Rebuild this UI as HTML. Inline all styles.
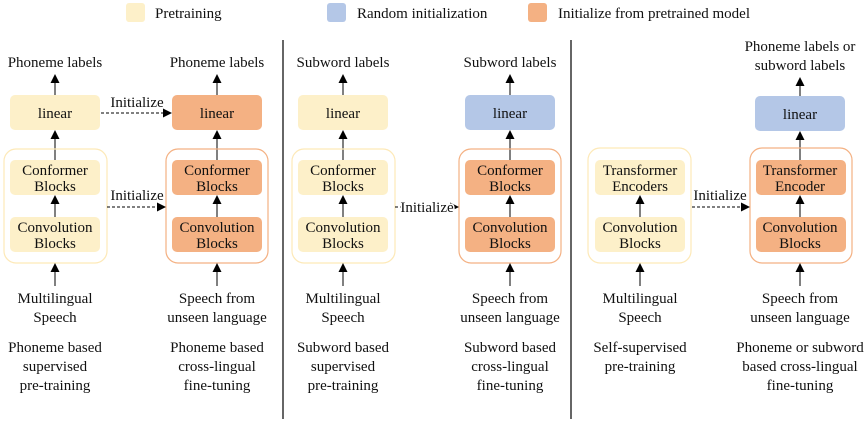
<!DOCTYPE html>
<html><head><meta charset="utf-8"><style>
body{margin:0;background:#fff}
svg text{font-family:"Liberation Serif",serif;font-size:15px;fill:#111;text-anchor:middle}
</style></head><body>
<svg width="865" height="419" viewBox="0 0 865 419" xmlns="http://www.w3.org/2000/svg">
<defs><marker id="a" markerWidth="9" markerHeight="9" refX="8" refY="4.5" orient="auto" markerUnits="userSpaceOnUse"><path d="M0,0 L9,4.5 L0,9 z" fill="#000"/></marker></defs>
<rect x="126" y="3" width="19" height="19" rx="3" fill="#fdf0c9"/><text x="155" y="18" style="text-anchor:start">Pretraining</text>
<rect x="327" y="3" width="19" height="19" rx="3" fill="#b4c7e7"/><text x="357" y="18" style="text-anchor:start">Random initialization</text>
<rect x="528" y="3" width="19" height="19" rx="3" fill="#f4b183"/><text x="558" y="18" style="text-anchor:start">Initialize from pretrained model</text>
<line x1="283" y1="40" x2="283" y2="419" stroke="#000" stroke-width="1.2"/>
<line x1="571" y1="40" x2="571" y2="419" stroke="#000" stroke-width="1.2"/>
<g>
<text x="55" y="67">Phoneme labels</text>
<line x1="55" y1="95" x2="55" y2="75" stroke="#000" marker-end="url(#a)"/>
<rect x="10" y="95" width="90" height="35" rx="5" fill="#fdf0c9"/><text x="55" y="118">linear</text>
<line x1="55" y1="160" x2="55" y2="131" stroke="#000" marker-end="url(#a)"/>
<rect x="4" y="149" width="103" height="114" rx="12" fill="none" stroke="#fde9b8" stroke-width="1.2"/>
<rect x="10" y="160" width="90" height="35" rx="5" fill="#fdf0c9"/><text x="55" y="175">Conformer</text><text x="55" y="191">Blocks</text>
<line x1="55" y1="217" x2="55" y2="196" stroke="#000" marker-end="url(#a)"/>
<rect x="10" y="217" width="90" height="35" rx="5" fill="#fdf0c9"/><text x="55" y="232">Convolution</text><text x="55" y="248">Blocks</text>
<line x1="55" y1="286" x2="55" y2="264" stroke="#000" marker-end="url(#a)"/>
<text x="55" y="303">Multilingual</text><text x="55" y="322">Speech</text>
<text x="55" y="352">Phoneme based</text><text x="55" y="371">supervised</text><text x="55" y="390">pre-training</text>

<text x="217" y="67">Phoneme labels</text>
<line x1="217" y1="95" x2="217" y2="75" stroke="#000" marker-end="url(#a)"/>
<rect x="172" y="95" width="90" height="35" rx="5" fill="#f4b183"/><text x="217" y="118">linear</text>
<line x1="217" y1="160" x2="217" y2="131" stroke="#000" marker-end="url(#a)"/>
<rect x="166" y="149" width="102" height="114" rx="12" fill="none" stroke="#f4b183" stroke-width="1.2"/>
<rect x="172" y="160" width="90" height="35" rx="5" fill="#f4b183"/><text x="217" y="175">Conformer</text><text x="217" y="191">Blocks</text>
<line x1="217" y1="217" x2="217" y2="196" stroke="#000" marker-end="url(#a)"/>
<rect x="172" y="217" width="90" height="35" rx="5" fill="#f4b183"/><text x="217" y="232">Convolution</text><text x="217" y="248">Blocks</text>
<line x1="217" y1="286" x2="217" y2="264" stroke="#000" marker-end="url(#a)"/>
<text x="217" y="303">Speech from</text><text x="217" y="322">unseen language</text>
<text x="217" y="352">Phoneme based</text><text x="217" y="371">cross-lingual</text><text x="217" y="390">fine-tuning</text>

<line x1="101" y1="113" x2="171" y2="113" stroke="#000" stroke-dasharray="3,2" marker-end="url(#a)"/><text x="137" y="107">Initialize</text>
<line x1="107" y1="207" x2="165" y2="207" stroke="#000" stroke-dasharray="3,2" marker-end="url(#a)"/><text x="137" y="200">Initialize</text>
</g>
<g>
<text x="343" y="67">Subword labels</text>
<line x1="343" y1="95" x2="343" y2="75" stroke="#000" marker-end="url(#a)"/>
<rect x="298" y="95" width="90" height="35" rx="5" fill="#fdf0c9"/><text x="343" y="118">linear</text>
<line x1="343" y1="160" x2="343" y2="131" stroke="#000" marker-end="url(#a)"/>
<rect x="292" y="149" width="103" height="114" rx="12" fill="none" stroke="#fde9b8" stroke-width="1.2"/>
<rect x="298" y="160" width="90" height="35" rx="5" fill="#fdf0c9"/><text x="343" y="175">Conformer</text><text x="343" y="191">Blocks</text>
<line x1="343" y1="217" x2="343" y2="196" stroke="#000" marker-end="url(#a)"/>
<rect x="298" y="217" width="90" height="35" rx="5" fill="#fdf0c9"/><text x="343" y="232">Convolution</text><text x="343" y="248">Blocks</text>
<line x1="343" y1="286" x2="343" y2="264" stroke="#000" marker-end="url(#a)"/>
<text x="343" y="303">Multilingual</text><text x="343" y="322">Speech</text>
<text x="343" y="352">Subword based</text><text x="343" y="371">supervised</text><text x="343" y="390">pre-training</text>

<text x="510" y="67">Subword labels</text>
<line x1="510" y1="95" x2="510" y2="75" stroke="#000" marker-end="url(#a)"/>
<rect x="465" y="95" width="90" height="35" rx="5" fill="#b4c7e7"/><text x="510" y="118">linear</text>
<line x1="510" y1="160" x2="510" y2="131" stroke="#000" marker-end="url(#a)"/>
<rect x="459" y="149" width="102" height="114" rx="12" fill="none" stroke="#f4b183" stroke-width="1.2"/>
<rect x="465" y="160" width="90" height="35" rx="5" fill="#f4b183"/><text x="510" y="175">Conformer</text><text x="510" y="191">Blocks</text>
<line x1="510" y1="217" x2="510" y2="196" stroke="#000" marker-end="url(#a)"/>
<rect x="465" y="217" width="90" height="35" rx="5" fill="#f4b183"/><text x="510" y="232">Convolution</text><text x="510" y="248">Blocks</text>
<line x1="510" y1="286" x2="510" y2="264" stroke="#000" marker-end="url(#a)"/>
<text x="510" y="303">Speech from</text><text x="510" y="322">unseen language</text>
<text x="510" y="352">Subword based</text><text x="510" y="371">cross-lingual</text><text x="510" y="390">fine-tuning</text>
<line x1="395" y1="207" x2="458" y2="207" stroke="#000" stroke-dasharray="3,2" marker-end="url(#a)"/><text x="427" y="212" style="fill:#111;paint-order:stroke;stroke:#fff;stroke-width:3">Initialize</text>
</g>
<g>
<rect x="588" y="148" width="103" height="115" rx="12" fill="none" stroke="#fde9b8" stroke-width="1.2"/>
<rect x="595" y="160" width="90" height="35" rx="5" fill="#fdf0c9"/><text x="640" y="175">Transformer</text><text x="640" y="191">Encoders</text>
<line x1="640" y1="217" x2="640" y2="196" stroke="#000" marker-end="url(#a)"/>
<rect x="595" y="217" width="90" height="35" rx="5" fill="#fdf0c9"/><text x="640" y="232">Convolution</text><text x="640" y="248">Blocks</text>
<line x1="640" y1="286" x2="640" y2="264" stroke="#000" marker-end="url(#a)"/>
<text x="640" y="303">Multilingual</text><text x="640" y="322">Speech</text>
<text x="640" y="352">Self-supervised</text><text x="640" y="371">pre-training</text>

<text x="800" y="51">Phoneme labels or</text><text x="800" y="70">subword labels</text>
<line x1="800" y1="96" x2="800" y2="78" stroke="#000" marker-end="url(#a)"/>
<rect x="755" y="96" width="90" height="35" rx="5" fill="#b4c7e7"/><text x="800" y="119">linear</text>
<line x1="800" y1="160" x2="800" y2="132" stroke="#000" marker-end="url(#a)"/>
<rect x="750" y="148" width="102" height="115" rx="12" fill="none" stroke="#f4b183" stroke-width="1.2"/>
<rect x="756" y="160" width="90" height="35" rx="5" fill="#f4b183"/><text x="800" y="175">Transformer</text><text x="800" y="191">Encoder</text>
<line x1="800" y1="217" x2="800" y2="196" stroke="#000" marker-end="url(#a)"/>
<rect x="756" y="217" width="90" height="35" rx="5" fill="#f4b183"/><text x="800" y="232">Convolution</text><text x="800" y="248">Blocks</text>
<line x1="800" y1="286" x2="800" y2="264" stroke="#000" marker-end="url(#a)"/>
<text x="800" y="303">Speech from</text><text x="800" y="322">unseen language</text>
<text x="800" y="352">Phoneme or subword</text><text x="800" y="371">based cross-lingual</text><text x="800" y="390">fine-tuning</text>
<line x1="692" y1="207" x2="749" y2="207" stroke="#000" stroke-dasharray="3,2" marker-end="url(#a)"/><text x="720" y="200">Initialize</text>
</g>
</svg>
</body></html>
